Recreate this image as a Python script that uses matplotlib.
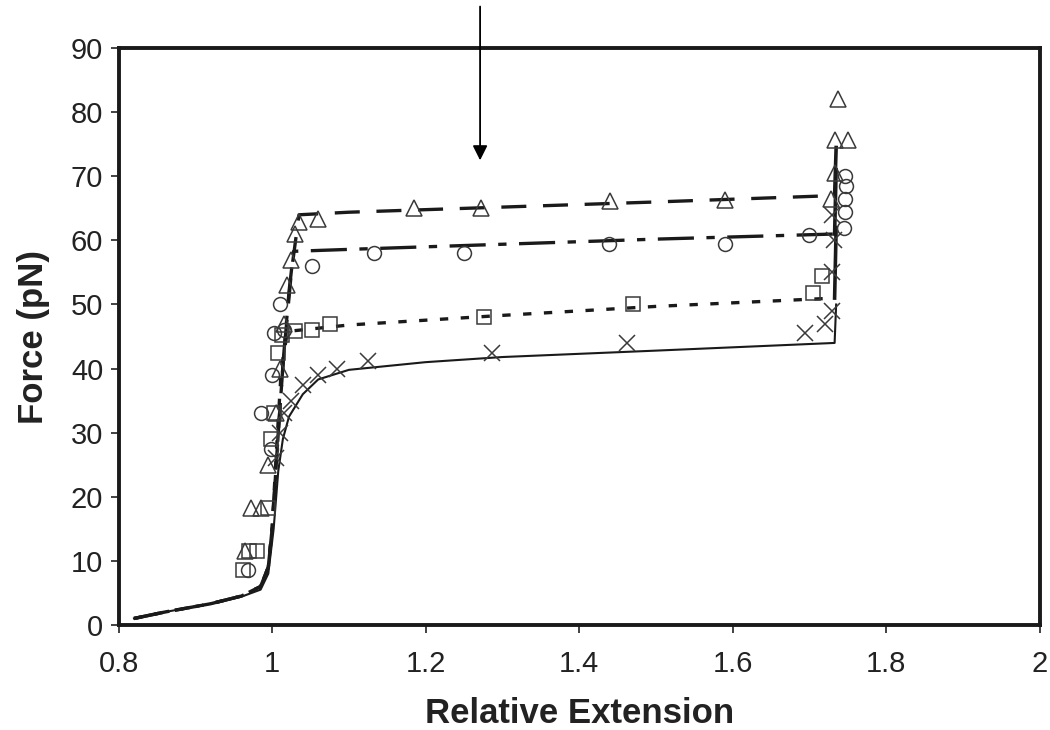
import matplotlib
matplotlib.use("Agg")
import matplotlib.pyplot as plt

plt.rcParams['font.family'] = ['Liberation Sans', 'DejaVu Sans']
plt.rcParams['lines.scale_dashes'] = False

# ---- data ----
# fitted curves
tri_line_x = [0.82, 0.86, 0.92, 0.96, 0.985, 0.995, 1.0, 1.008, 1.015, 1.025, 1.035, 1.10, 1.30, 1.50, 1.733, 1.735]
tri_line_y = [1.0, 2.0, 3.3, 4.5, 6.0, 9.0, 15.0, 30.0, 42.0, 55.0, 64.0, 64.4, 65.2, 66.0, 67.0, 74.5]
cir_line_x = [0.82, 0.86, 0.92, 0.96, 0.985, 0.995, 1.0, 1.008, 1.015, 1.022, 1.028, 1.10, 1.30, 1.50, 1.733, 1.735]
cir_line_y = [1.0, 2.0, 3.3, 4.5, 6.0, 9.0, 15.0, 30.0, 42.0, 52.0, 58.3, 58.6, 59.4, 60.2, 61.0, 71.0]
sq_line_x = [0.82, 0.86, 0.92, 0.96, 0.985, 0.995, 1.0, 1.006, 1.012, 1.02, 1.10, 1.30, 1.50, 1.733, 1.735]
sq_line_y = [1.0, 2.0, 3.3, 4.5, 6.0, 9.0, 15.0, 28.0, 40.0, 45.8, 46.8, 48.3, 49.7, 51.0, 62.0]
x_line_x = [0.82, 0.86, 0.92, 0.96, 0.985, 0.995, 1.002, 1.008, 1.014, 1.022, 1.04, 1.06, 1.10, 1.20, 1.30, 1.50, 1.733, 1.735]
x_line_y = [1.0, 2.0, 3.3, 4.4, 5.5, 8.0, 15.0, 24.0, 29.0, 32.5, 36.0, 38.3, 39.8, 41.0, 41.8, 42.8, 44.0, 50.0]

# measured points
tri_x = [0.965, 0.972, 0.985, 0.995, 1.005, 1.01, 1.015, 1.02, 1.025, 1.03, 1.035, 1.06, 1.185, 1.272, 1.44, 1.59, 1.728, 1.733, 1.733, 1.75, 1.737]
tri_y = [11.5, 18.2, 18.2, 25.0, 33.0, 40.0, 47.0, 53.0, 57.0, 61.0, 62.8, 63.3, 65.0, 65.0, 66.2, 66.3, 66.5, 70.5, 75.6, 75.6, 82.0]
cir_x = [0.968, 0.985, 0.998, 1.0, 1.003, 1.01, 1.015, 1.052, 1.133, 1.25, 1.439, 1.59, 1.70, 1.745, 1.746, 1.747, 1.748, 1.746]
cir_y = [8.5, 33.0, 27.5, 39.0, 45.5, 50.0, 46.0, 56.0, 58.0, 58.0, 59.5, 59.5, 60.8, 62.0, 64.5, 66.5, 68.5, 70.0]
sq_x = [0.962, 0.97, 0.98, 0.995, 0.998, 1.002, 1.008, 1.013, 1.03, 1.052, 1.075, 1.276, 1.47, 1.705, 1.717]
sq_y = [8.5, 11.5, 11.5, 18.2, 29.0, 33.0, 42.5, 45.2, 45.8, 46.0, 46.9, 48.0, 50.0, 51.8, 54.5]
xx_x = [1.005, 1.01, 1.015, 1.025, 1.04, 1.06, 1.085, 1.125, 1.287, 1.463, 1.695, 1.72, 1.73, 1.73, 1.732, 1.73]
xx_y = [26.0, 30.0, 33.0, 35.0, 37.5, 39.0, 40.0, 41.2, 42.5, 44.0, 45.5, 47.0, 49.0, 55.0, 60.0, 64.0]

arrow_x = 1.271
arrow_top = 96.5
arrow_tip = 72.5

x_ticks = [0.8, 1.0, 1.2, 1.4, 1.6, 1.8, 2.0]
x_ticklabels = ['0.8', '1', '1.2', '1.4', '1.6', '1.8', '2']
y_ticks = [0, 10, 20, 30, 40, 50, 60, 70, 80, 90]

# ---- figure ----
fig = plt.figure(figsize=(10.5, 7.3), dpi=100)
ax = fig.add_axes([0.113, 0.144, 0.877, 0.790])

lc = '#1a1a1a'
mc = '#3a3a3a'
curves = [
    (x_line_x, x_line_y, 1.5, None),
    (sq_line_x, sq_line_y, 2.4, (6, 9)),
    (cir_line_x, cir_line_y, 2.4, (26, 9, 6, 9)),
    (tri_line_x, tri_line_y, 2.4, (18, 12)),
]
for cx, cy, lw, dash in curves:
    if dash is None:
        ax.plot(cx, cy, color=lc, lw=lw)
    else:
        ax.plot(cx[:-1], cy[:-1], color=lc, lw=lw, dashes=dash)
        # final vertical rise drawn solid
        ax.plot(cx[-2:], cy[-2:], color=lc, lw=2.6)

mk = dict(linestyle='none', markerfacecolor='none', markeredgecolor=mc, markeredgewidth=1.1)
ax.plot(tri_x, tri_y, marker='^', markersize=11, **mk)
ax.plot(cir_x, cir_y, marker='o', markersize=10, **mk)
ax.plot(sq_x, sq_y, marker='s', markersize=9.5, **mk)
ax.plot(xx_x, xx_y, marker='x', markersize=11, **mk)

ax.annotate('', xy=(arrow_x, arrow_tip), xytext=(arrow_x, arrow_top),
            xycoords='data', annotation_clip=False,
            arrowprops=dict(arrowstyle='-|>', color='black', lw=1.3,
                            mutation_scale=22, shrinkA=0, shrinkB=0))

ax.set_xlim(0.8, 2.0)
ax.set_ylim(0, 90)
ax.set_xticks(x_ticks)
ax.set_xticklabels(x_ticklabels)
ax.set_yticks(y_ticks)
ax.tick_params(direction='out', length=6, width=1.2, labelsize=21, colors='#222222')
ax.tick_params(axis='x', pad=12)
ax.tick_params(axis='y', pad=5)
for s in ax.spines.values():
    s.set_linewidth(2.8)
    s.set_color('#1a1a1a')

ax.set_xlabel('Relative Extension', fontsize=25, fontweight='bold', color='#222222', labelpad=14)
ax.set_ylabel('Force (pN)', fontsize=25, fontweight='bold', color='#222222', labelpad=15)

fig.savefig('out.png', dpi=100, facecolor='white')
